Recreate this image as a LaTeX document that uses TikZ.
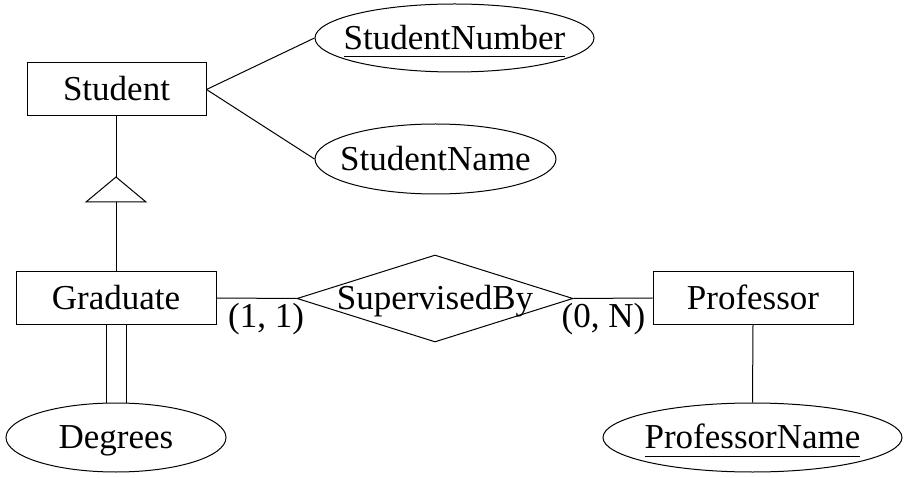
\documentclass[tikz,border=0pt]{standalone}
\usepackage{fontspec}
\setmainfont{Liberation Serif}
\usetikzlibrary{shapes.geometric}
\newcommand{\zw}[1]{\makebox[0pt]{#1}}
\newcommand{\keyu}[1]{\setbox0\hbox{#1}\rlap{\rule[-8pt]{\wd0}{1pt}}\box0}
\begin{document}
\begin{tikzpicture}[x=1pt,y=-1pt,line width=1pt,
  every node/.style={font=\fontsize{35}{42}\selectfont, inner sep=0pt, text height=22.5pt, text depth=0pt},
  entity/.style={draw, rectangle, minimum height=52pt},
  attr/.style={draw, ellipse, minimum height=69pt},
  rel/.style={draw, diamond, minimum width=276pt, minimum height=87pt},
  card/.style={anchor=base}]
\useasboundingbox (0,0) rectangle (910,478);
\node[entity, minimum width=179pt, minimum height=53pt] (student) at (116.5,89.5) {Student};
\node[entity, minimum width=200pt] (graduate) at (116,298) {Graduate};
\node[entity, minimum width=200pt] (professor) at (753,298) {Professor};
\node[attr, minimum width=279pt, minimum height=68pt] (snum) at (454.5,38) {\zw{\keyu{StudentNumber}}};
\node[attr, minimum width=241pt, minimum height=70pt] (sname) at (435.5,159) {\zw{StudentName}};
\node[attr, minimum width=220pt] (deg) at (116,437.5) {\zw{Degrees}};
\node[attr, minimum width=299pt] (pname) at (752.5,437.5) {\zw{\keyu{ProfessorName}}};
\node[rel] (sup) at (435,298.5) {\zw{SupervisedBy}};
\node[card] (c1) at (266,327) {(1, 1)};
\node[card] (c2) at (603.5,327) {(0, N)};
\coordinate (apex) at (116,177);
\coordinate (bl) at (86,202);
\coordinate (br) at (146,202);
\coordinate (bm) at (116,202);
\draw (apex) -- (bl) -- (br) -- cycle;
\draw (student.south -| apex) -- (apex);
\draw (bm) -- (graduate.north);
\draw (student.east) -- (snum.west);
\draw (student.east) -- (sname.west);
\draw (graduate.east) -- (sup.west);
\draw (sup.east) -- (professor.west);
\draw (professor.south) -- (pname.north);
\draw ([xshift=-10pt]graduate.south) -- ([xshift=-10pt]deg.north);
\draw ([xshift=10pt]graduate.south) -- ([xshift=10pt]deg.north);
\end{tikzpicture}
\end{document}
